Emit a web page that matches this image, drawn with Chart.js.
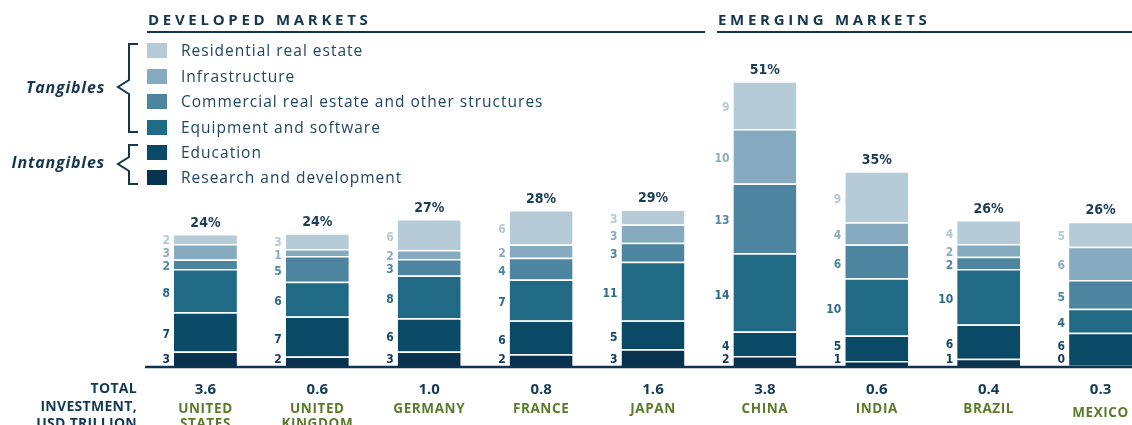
<!DOCTYPE html>
<html><head><meta charset="utf-8">
<script src="https://cdn.jsdelivr.net/npm/chart.js@4"></script>
<style>
html,body{margin:0;padding:0;width:1132px;height:425px;overflow:hidden;background:#fff;}
#wrap{position:absolute;left:0;top:0;width:1160px;height:425px;}
.hdr{position:absolute;top:9px;font:bold 15px "Open Sans",sans-serif;letter-spacing:3.7px;color:#15364f;white-space:nowrap;}
.rule{position:absolute;top:31px;height:2px;background:#15364f;}
.lg{position:absolute;left:147px;height:16px;white-space:nowrap;}
.lg .sw{position:absolute;left:0;top:0;width:20px;height:15px;}
.lg .tx{position:absolute;left:34px;top:-4px;font:15.5px "Open Sans",sans-serif;letter-spacing:1px;color:#1f4560;line-height:22px;}
.grp{position:absolute;right:1027px;font:italic bold 16px "Open Sans",sans-serif;letter-spacing:0.8px;color:#15364f;white-space:nowrap;line-height:20px;}
svg{position:absolute;left:0;top:0;}
</style></head><body>
<div id="wrap"><canvas id="c" width="1160" height="425"></canvas></div>
<div class="hdr" style="left:148px">DEVELOPED MARKETS</div>
<div class="rule" style="left:147px;width:558px"></div>
<div class="hdr" style="left:718px">EMERGING MARKETS</div>
<div class="rule" style="left:717px;width:415px"></div>
<div id="legend"></div>
<div class="grp" style="top:77px">Tangibles</div>
<div class="grp" style="top:152px">Intangibles</div>
<svg width="200" height="200">
<path d="M138,44 L129,44 L129,80 L118,87 L129,94 L129,132 L138,132" fill="none" stroke="#15364f" stroke-width="2"/>
<path d="M138,145 L129,145 L129,157 L118,164 L129,171 L129,184 L138,184" fill="none" stroke="#15364f" stroke-width="2"/>
</svg>
<script>
const countries = [['UNITED','STATES'],['UNITED','KINGDOM'],['GERMANY'],['FRANCE'],['JAPAN'],['CHINA'],['INDIA'],['BRAZIL'],['MEXICO']];
const totalInvestment = ['3.6','0.6','1.0','0.8','1.6','3.8','0.6','0.4','0.3'];
const sharePct = [24,24,27,28,29,51,35,26,26];
const researchDev    = [2.6,1.7,2.6,2.1,3.0,1.8,0.9,1.3,0.2];
const education      = [7.1,7.2,6.0,6.1,5.2,4.4,4.6,6.2,5.8];
const equipment      = [7.8,6.3,7.7,7.4,10.6,14.1,10.3,10.0,4.3];
const commercial     = [1.7,4.6,3.0,3.9,3.4,12.6,6.1,2.2,5.2];
const infrastructure = [2.8,1.3,1.6,2.4,3.3,9.8,4.0,2.3,6.0];
const residential    = [1.8,2.8,5.6,6.2,2.7,8.6,9.2,4.3,4.5];

const seriesNames = ['Research and development','Education','Equipment and software','Commercial real estate and other structures','Infrastructure','Residential real estate'];
const seriesData = [researchDev, education, equipment, commercial, infrastructure, residential];
const seriesColors = ['#08324d','#0a4a66','#216a86','#4d84a0','#86abc0','#b6cbd8'];
const labelColors  = ['#10374f','#164a64','#2d6a85','#4f86a0','#8aabbf','#b3c8d5'];

// legend (top to bottom = residential first)
const legendCenters = [50,76,101,127,152,177];
const lg = document.getElementById('legend');
for (let k = 0; k < 6; k++) {
  const si = 5 - k;
  const d = document.createElement('div');
  d.className = 'lg';
  d.style.top = (legendCenters[k] - 7.5) + 'px';
  d.innerHTML = '<div class="sw" style="background:' + seriesColors[si] + '"></div><div class="tx">' + seriesNames[si] + '</div>';
  lg.appendChild(d);
}

const labelPlugin = {
  id: 'labels',
  afterDatasetsDraw(chart) {
    const ctx = chart.ctx;
    const area = chart.chartArea;
    const xs = chart.scales.x;
    ctx.save();
    // baseline
    ctx.strokeStyle = '#0d3550';
    ctx.lineWidth = 2.5;
    ctx.beginPath();
    ctx.moveTo(145, area.bottom + 1);
    ctx.lineTo(1160, area.bottom + 1);
    ctx.stroke();

    for (let i = 0; i < countries.length; i++) {
      let prev = null;
      let left = 0, topY = area.bottom;
      for (let s = 0; s < seriesData.length; s++) {
        const el = chart.getDatasetMeta(s).data[i];
        left = el.x - el.width / 2;
        topY = Math.min(topY, el.y);
        let y = (el.y + el.base) / 2 + 3;
        if (s === 0) y = Math.min(y, area.bottom - 6);
        if (prev !== null) y = Math.min(y, prev - 13);
        prev = y;
        ctx.font = 'bold 12px "Liberation Sans Narrow","DejaVu Sans Condensed",sans-serif';
        ctx.fillStyle = labelColors[s];
        ctx.textAlign = 'right';
        ctx.textBaseline = 'middle';
        ctx.fillText(String(Math.round(seriesData[s][i])), left - 4, y);
      }
      const cx = xs.getPixelForValue(i);
      ctx.font = 'bold 14px "Liberation Sans Narrow","DejaVu Sans Condensed",sans-serif';
      ctx.fillStyle = '#1b3c55';
      ctx.textAlign = 'center';
      ctx.textBaseline = 'middle';
      ctx.fillText(sharePct[i] + '%', cx, topY - 11);

      // totals and country names
      ctx.font = 'bold 15px "Open Sans",sans-serif';
      ctx.fillStyle = '#123a55';
      ctx.fillText(totalInvestment[i], cx, 390);
      ctx.font = 'bold 13.5px "Open Sans",sans-serif';
      ctx.letterSpacing = '0.6px';
      ctx.fillStyle = '#5b7b2b';
      const off = countries[i].length === 1 && i === 8 ? 4 : 0;
      countries[i].forEach((ln, j) => ctx.fillText(ln, cx, 409 + off + j * 15));
      ctx.letterSpacing = '0px';
    }
    ctx.font = 'bold 14px "Open Sans",sans-serif';
    ctx.letterSpacing = '0.3px';
    ctx.fillStyle = '#123a55';
    ctx.textAlign = 'right';
    ctx.textBaseline = 'middle';
    ctx.fillText('TOTAL', 137, 389);
    ctx.fillText('INVESTMENT,', 137, 407);
    ctx.fillText('USD TRILLION', 137, 424);
    ctx.restore();
  }
};

new Chart(document.getElementById('c'), {
  type: 'bar',
  data: {
    labels: countries.map(c => c.join(' ')),
    datasets: seriesData.map((d, s) => ({
      label: seriesNames[s],
      data: d,
      backgroundColor: seriesColors[s],
      borderColor: '#ffffff',
      borderWidth: {top: 1.5, left: 0, right: 0, bottom: 0},
      borderSkipped: 'start',
      barPercentage: 0.5625,
      categoryPercentage: 1
    }))
  },
  options: {
    responsive: false,
    animation: false,
    layout: {padding: {left: 149.5, right: 3.5, top: 33, bottom: 59}},
    plugins: {legend: {display: false}, tooltip: {enabled: false}},
    scales: {
      x: {stacked: true, display: false},
      y: {stacked: true, display: false, min: 0, max: 60}
    }
  },
  plugins: [labelPlugin]
});
</script>
</body></html>
